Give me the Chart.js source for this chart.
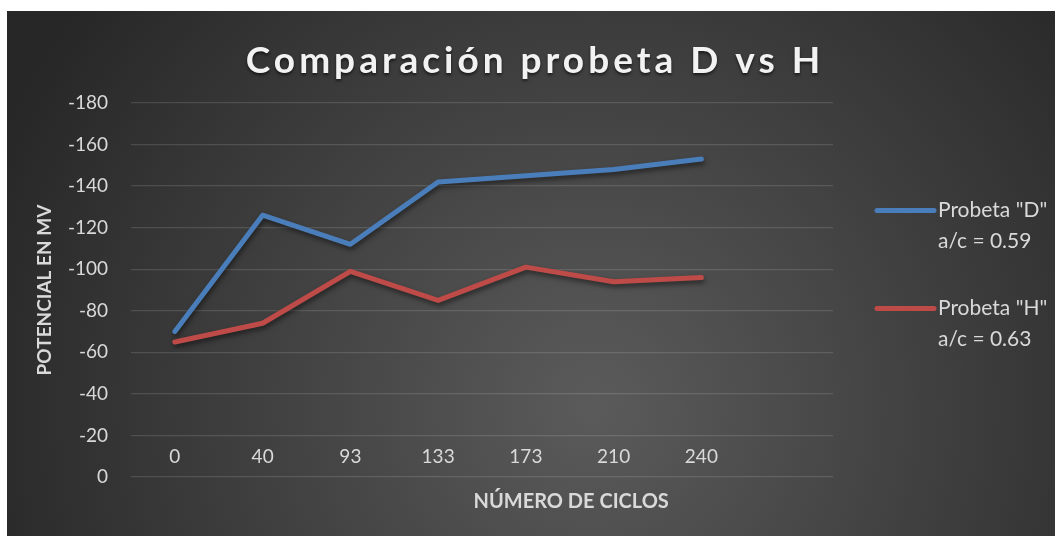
<!DOCTYPE html>
<html>
<head>
<meta charset="utf-8">
<script src="https://cdn.jsdelivr.net/npm/chart.js@4.4.1/dist/chart.umd.min.js"></script>
<style>
  html, body { margin: 0; padding: 0; background: #fff; }
  #wrap { position: absolute; left: 7px; top: 11px; width: 1048px; height: 525px; }
</style>
</head>
<body>
<div id="wrap"><canvas id="chart"></canvas></div>
<script>
// valores
const ciclos = ['0', '40', '93', '133', '173', '210', '240', ''];
const probetaD = [-70, -126, -112, -142, -145, -148, -153];
const probetaH = [-65, -74, -99, -85, -101, -94, -96];
const leyendaD = ['Probeta "D"', 'a/c = 0.59'];
const leyendaH = ['Probeta "H"', 'a/c = 0.63'];

const gris = '#d9d9d9';
const fuente = 'Lato, "Open Sans", sans-serif';

// fondo oscuro con degradado radial
const fondo = {
    id: 'fondo',
    beforeDraw: (chart) => {
        const { ctx, width, height } = chart;
        const g = ctx.createRadialGradient(width * 0.56, height * 0.75, 10, width * 0.56, height * 0.75, width * 0.62);
        g.addColorStop(0, '#5a5a5a');
        g.addColorStop(1, '#272727');
        ctx.save();
        ctx.fillStyle = g;
        ctx.fillRect(0, 0, width, height);
        ctx.restore();
    }
};

// sombra bajo las líneas
const sombra = {
    id: 'sombra',
    beforeDatasetDraw: (chart) => {
        const c = chart.ctx;
        c.save();
        c.shadowColor = 'rgba(0,0,0,0.5)';
        c.shadowBlur = 5;
        c.shadowOffsetX = 1;
        c.shadowOffsetY = 3;
    },
    afterDatasetDraw: (chart) => { chart.ctx.restore(); }
};

// título, título del eje X y leyenda
const textos = {
    id: 'textos',
    afterDraw: (chart) => {
        const { ctx, width, height, chartArea } = chart;
        ctx.save();

        // título
        ctx.shadowColor = 'rgba(0,0,0,0.6)';
        ctx.shadowBlur = 3;
        ctx.shadowOffsetY = 2;
        ctx.fillStyle = '#f2f2f2';
        ctx.font = 'bold 37px ' + fuente;
        ctx.letterSpacing = '4px';
        ctx.textAlign = 'center';
        ctx.textBaseline = 'alphabetic';
        ctx.fillText('Comparación probeta D vs H', width / 2 + 4, 62);
        ctx.letterSpacing = '0px';
        ctx.shadowColor = 'transparent';

        // título eje X
        ctx.fillStyle = gris;
        ctx.font = 'bold 20px ' + fuente;
        ctx.textBaseline = 'middle';
        ctx.fillText('NÚMERO DE CICLOS', chartArea.left + chartArea.width * 0.627, 491);

        // leyenda
        const x0 = chartArea.right + 44;
        const y0 = height / 2 - 63;
        ctx.textAlign = 'left';
        ctx.font = '21px ' + fuente;
        chart.data.datasets.forEach((ds, i) => {
            const y = y0 + i * 98;
            ctx.strokeStyle = ds.borderColor;
            ctx.lineWidth = 5;
            ctx.lineCap = 'round';
            ctx.beginPath();
            ctx.moveTo(x0, y);
            ctx.lineTo(x0 + 57, y);
            ctx.stroke();
            ctx.fillStyle = gris;
            ds.leyenda.forEach((t, j) => ctx.fillText(t, x0 + 61, y + j * 31));
        });
        ctx.restore();
    }
};

new Chart(document.getElementById('chart'), {
    type: 'line',
    data: {
        labels: ciclos,
        datasets: [
            { label: leyendaD[0], leyenda: leyendaD, data: probetaD, borderColor: '#4a7ebb', borderWidth: 5, pointRadius: 0, borderCapStyle: 'round', borderJoinStyle: 'round', tension: 0 },
            { label: leyendaH[0], leyenda: leyendaH, data: probetaH, borderColor: '#be4b48', borderWidth: 5, pointRadius: 0, borderCapStyle: 'round', borderJoinStyle: 'round', tension: 0 }
        ]
    },
    options: {
        responsive: true,
        maintainAspectRatio: false,
        animation: false,
        layout: { padding: { top: 92, right: 222, bottom: 59, left: 0 } },
        plugins: { legend: { display: false }, title: { display: false }, tooltip: { enabled: false } },
        scales: {
            x: {
                position: { y: -20 },
                offset: true,
                grid: { display: false },
                border: { display: false },
                ticks: { color: gris, font: { family: fuente, size: 19 }, padding: 2, maxRotation: 0, autoSkip: false }
            },
            y: {
                reverse: true,
                min: -180,
                max: 0,
                grid: { color: 'rgba(255,255,255,0.13)', drawTicks: false, lineWidth: 1.3 },
                border: { display: false },
                ticks: { stepSize: 20, color: gris, font: { family: fuente, size: 19 }, padding: 23 },
                title: { display: true, text: 'POTENCIAL EN MV', color: gris, font: { family: fuente, size: 19, weight: 'bold' }, padding: { top: 26, bottom: 0 } },
                afterFit: (s) => { s.width = 124; }
            }
        }
    },
    plugins: [fondo, sombra, textos]
});
</script>
</body>
</html>
